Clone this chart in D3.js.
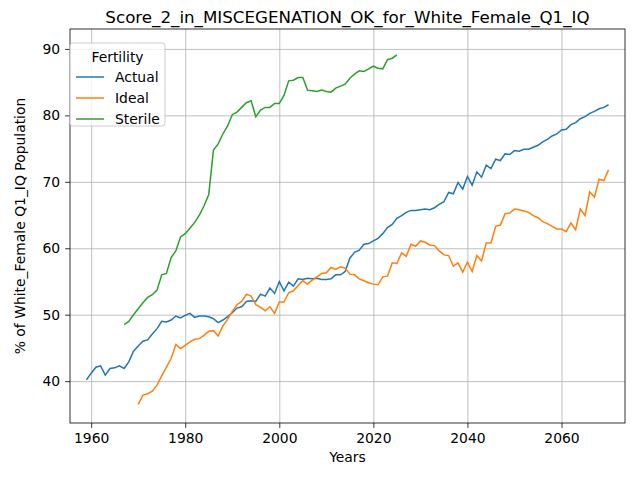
<!DOCTYPE html>
<html><head><meta charset="utf-8">
<script src="https://cdn.jsdelivr.net/npm/d3@7"></script>
<style>
body{margin:0;background:#fff;font-family:"DejaVu Sans",sans-serif}
.grid line{stroke:#b0b0b0;stroke-width:0.8}
.grid path{display:none}
</style></head><body>
<svg width="640" height="480"></svg>
<script>
var actualStart = 1959;
var actual = [40.2,41.2,42.1,42.3,40.9,41.9,42.0,42.3,41.9,42.9,44.5,45.3,46.0,46.2,47.1,47.9,49.0,48.9,49.2,49.8,
  49.5,49.9,50.2,49.6,49.8,49.8,49.7,49.4,48.8,49.2,49.7,50.3,51.0,51.2,52.0,52.1,52.0,53.1,52.8,54.0,
  53.2,55.0,53.6,54.9,54.3,55.4,55.3,55.5,55.4,55.5,55.3,55.3,55.4,56.0,56.0,56.5,58.5,59.4,59.7,60.6,
  60.7,61.1,61.5,62.2,63.1,63.6,64.5,64.9,65.4,65.7,65.7,65.8,65.9,65.8,66.1,66.6,67.0,68.4,68.2,69.9,
  68.9,70.8,69.5,71.5,70.7,72.5,72.0,73.4,73.2,74.2,74.1,74.7,74.6,74.9,74.9,75.2,75.5,76.0,76.4,76.9,
  77.2,77.8,77.9,78.6,78.9,79.5,79.8,80.3,80.6,81.0,81.2,81.6];
var idealStart = 1970;
var ideal = [36.5,37.9,38.1,38.5,39.4,40.8,42.1,43.4,45.5,44.9,45.4,45.9,46.3,46.4,46.9,47.5,47.6,46.8,48.3,49.3,
  50.5,51.5,52.0,53.1,52.8,51.5,51.1,50.6,51.2,50.2,51.9,51.9,53.3,53.6,54.4,55.1,54.6,55.2,55.7,56.2,
  56.3,57.1,56.8,57.2,57.0,56.1,56.0,55.4,55.1,54.8,54.6,54.5,55.7,55.8,57.8,57.7,59.3,58.8,60.6,60.3,
  61.1,60.9,60.5,60.4,59.6,59.0,58.9,57.3,57.8,56.4,57.9,56.5,58.9,58.1,60.8,60.8,63.3,63.5,65.2,65.3,
  65.9,65.8,65.6,65.4,64.9,64.6,64.0,63.7,63.3,62.9,62.9,62.5,63.8,62.8,65.9,64.9,68.5,67.7,70.4,70.2,71.8];
var sterileStart = 1967;
var sterile = [48.5,49.0,50.0,50.9,51.8,52.6,53.0,53.7,56.0,56.2,58.6,59.6,61.7,62.2,63.0,63.9,65.0,66.4,68.1,74.8,
  75.7,77.2,78.4,80.1,80.5,81.2,81.9,82.2,79.8,80.8,81.2,81.2,81.8,81.8,83.0,85.2,85.3,85.7,85.7,83.8,
  83.7,83.6,83.8,83.6,83.5,84.1,84.4,84.7,85.6,86.2,86.7,86.6,87.0,87.4,87.1,87.0,88.4,88.6,89.1];
var seriesNames = ["Actual","Ideal","Sterile"];
var colors = ["#1f77b4","#ff7f0e","#2ca02c"];
var xTicks = [1960,1980,2000,2020,2040,2060];
var yTicks = [40,50,60,70,80,90];

var svg = d3.select("svg");
var L = 70, R = 625, T = 29, B = 423;
var x = d3.scaleLinear().domain([1955.5, 2073.5]).range([L, R]);
var y = d3.scaleLinear().domain([33.7, 93.0]).range([B, T]);

svg.append("g").attr("class","grid").attr("transform","translate(0,"+B+")")
  .call(d3.axisBottom(x).tickValues(xTicks).tickSize(-(B-T)).tickFormat(""));
svg.append("g").attr("class","grid").attr("transform","translate("+L+",0)")
  .call(d3.axisLeft(y).tickValues(yTicks).tickSize(-(R-L)).tickFormat(""));

function toPts(start, vals) { return vals.map(function(v, i) { return [start + i, v] }) }
var data = [toPts(actualStart, actual), toPts(idealStart, ideal), toPts(sterileStart, sterile)];
var line = d3.line().x(function(d){return x(d[0])}).y(function(d){return y(d[1])});
data.forEach(function(d, i) {
  svg.append("path").attr("d", line(d)).attr("fill","none")
    .attr("stroke", colors[i]).attr("stroke-width", 1.5);
});

svg.append("rect").attr("x",L).attr("y",T).attr("width",R-L).attr("height",B-T)
  .attr("fill","none").attr("stroke","#000").attr("stroke-width",0.8);

var xa = svg.append("g").attr("transform","translate(0,"+B+")")
  .call(d3.axisBottom(x).tickValues(xTicks).tickSize(4.9).tickPadding(4.9).tickFormat(d3.format("d")));
var ya = svg.append("g").attr("transform","translate("+L+",0)")
  .call(d3.axisLeft(y).tickValues(yTicks).tickSize(4.9).tickPadding(4.9));
[xa, ya].forEach(function(a) {
  a.select(".domain").remove();
  a.selectAll("text").attr("font-size", 13.9).attr("font-family","DejaVu Sans").attr("fill","#000");
  a.selectAll("line").attr("stroke","#000").attr("stroke-width",0.8);
});

svg.append("text").attr("x",(L+R)/2).attr("y",462).attr("text-anchor","middle")
  .attr("font-size",13.9).text("Years");
svg.append("text").attr("transform","translate(25,"+((T+B)/2)+") rotate(-90)")
  .attr("text-anchor","middle").attr("font-size",13.9).text("% of White_Female Q1_IQ Population");
svg.append("text").attr("x",(L+R)/2).attr("y",23).attr("text-anchor","middle")
  .attr("font-size",16.7).text("Score_2_in_MISCEGENATION_OK_for_White_Female_Q1_IQ");

var lg = svg.append("g").attr("transform","translate(70,43)");
lg.append("rect").attr("width",95).attr("height",83).attr("rx",3)
  .attr("fill","#fff").attr("fill-opacity",0.8).attr("stroke","#ccc");
lg.append("text").attr("x",47.5).attr("y",19).attr("text-anchor","middle").attr("font-size",13.9).text("Fertility");
seriesNames.forEach(function(n, i) {
  var yy = 39 + i * 21;
  lg.append("line").attr("x1",6).attr("x2",34).attr("y1",yy-5).attr("y2",yy-5)
    .attr("stroke",colors[i]).attr("stroke-width",1.5);
  lg.append("text").attr("x",45).attr("y",yy).attr("font-size",13.9).text(n);
});
</script></body></html>
